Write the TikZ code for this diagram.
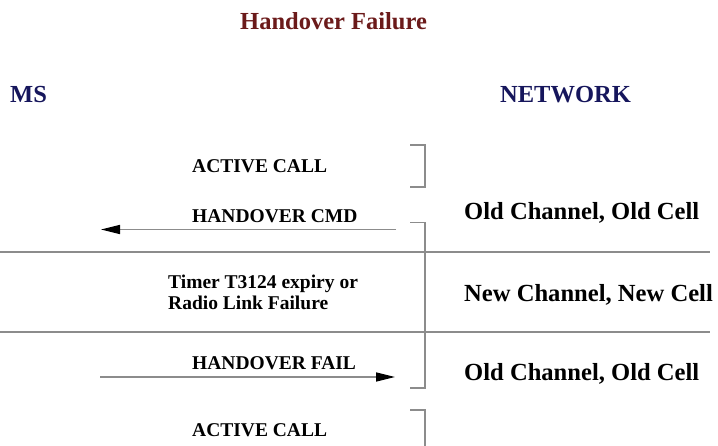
\documentclass[tikz,border=0pt]{standalone}
\usepackage{fontspec}
\setmainfont{Liberation Serif}
\usetikzlibrary{arrows.meta}
\definecolor{titlered}{HTML}{6B1A1A}
\definecolor{entityblue}{HTML}{16165C}
\definecolor{rulegray}{HTML}{8C8C8C}
\begin{document}
\begin{tikzpicture}[x=1pt,y=-1pt,
  lbl/.style={inner sep=0pt,anchor=base west,font=\bfseries},
  msgtext/.style={lbl,font=\bfseries\fontsize{19.5}{21.7}\selectfont},
  statetext/.style={lbl,font=\bfseries\fontsize{24.6}{28}\selectfont},
  entity/.style={lbl,text=entityblue,font=\bfseries\fontsize{24.5}{28}\selectfont},
  msg/.style={draw=rulegray,line width=1.4pt,
    -{Triangle[length=19pt,width=9pt,color=black]}},
  divider/.style={draw=rulegray,line width=1.3pt},
  bracket/.style={draw=rulegray,line width=1.3pt}]
\useasboundingbox (0,0) rectangle (718,446);

% title and the two parties
\node[lbl,text=titlered,font=\bfseries\fontsize{24.5}{28}\selectfont] (title) at (240,29.3) {Handover Failure};
\node[entity] (ms) at (10,102.7) {MS};
\node[entity] (net) at (500,102.7) {NETWORK};

% phase dividers
\draw[divider] (0,252) -- (710,252);
\draw[divider] (0,332) -- (710,332);

% message labels (a two-line node sits on the baseline of its last line)
\node[msgtext] (call1) at (192,172.7) {ACTIVE CALL};
\node[msgtext] (hocmd) at (192,222.3) {HANDOVER CMD};
\node[msgtext,align=left] (timer) at (168,310) {Timer T3124 expiry or\\Radio Link Failure};
\node[msgtext] (hofail) at (192,370) {HANDOVER FAIL};
\node[msgtext] (call2) at (192,436) {ACTIVE CALL};

% channel state on the network side
\node[statetext] (old1) at (464,219.3) {Old Channel, Old Cell};
\node[statetext] (newc) at (464,301.7) {New Channel, New Cell};
\node[statetext] (old2) at (464,380.7) {Old Channel, Old Cell};

% message arrows
\coordinate (cmdN) at (396,229.5);
\coordinate (cmdM) at (101,229.5);
\coordinate (failM) at (100,377);
\coordinate (failN) at (395,377);
\draw[msg] (cmdN) -- (cmdM);
\draw[msg] (failM) -- (failN);

% brackets marking the time spans
\draw[bracket] (410,145) -- (425,145) -- (425,187) -- (410,187);
\draw[bracket] (410,222.5) -- (425,222.5) -- (425,388) -- (410,388);
\draw[bracket] (410,410) -- (425,410) -- (425,446);
\end{tikzpicture}
\end{document}
